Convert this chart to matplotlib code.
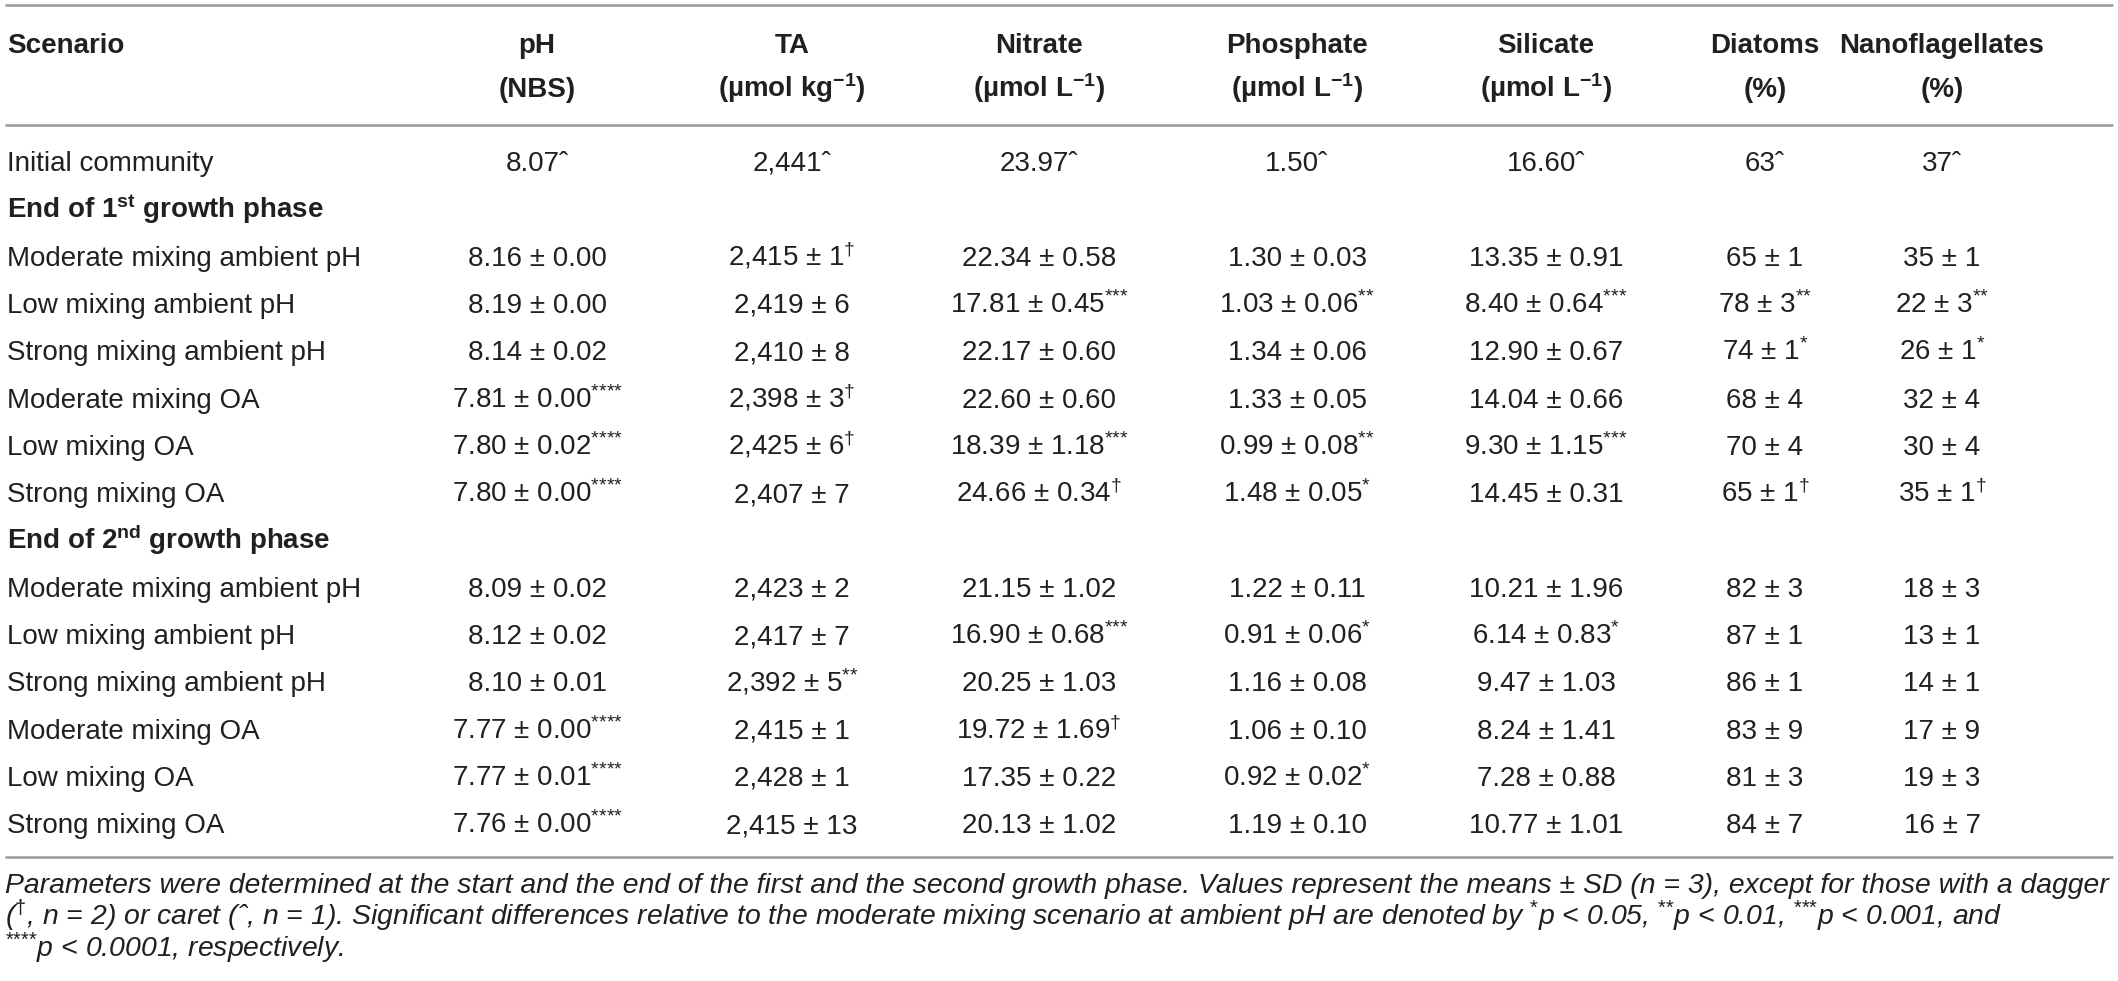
import matplotlib.pyplot as plt

plt.rcParams['font.family'] = 'Liberation Sans'
plt.rcParams['mathtext.fontset'] = 'custom'
plt.rcParams['mathtext.rm'] = 'Liberation Sans'
plt.rcParams['mathtext.it'] = 'Liberation Sans:italic'
plt.rcParams['mathtext.bf'] = 'Liberation Sans:bold'

# ---- table content ----
headers_top = ['Scenario', 'pH', 'TA', 'Nitrate', 'Phosphate', 'Silicate', 'Diatoms', 'Nanoflagellates']
headers_unit = ['', '(NBS)', r'(µmol kg$^{\mathbf{-1}}$)', r'(µmol L$^{\mathbf{-1}}$)',
                r'(µmol L$^{\mathbf{-1}}$)', r'(µmol L$^{\mathbf{-1}}$)', '(%)', '(%)']

scenarios = ['Moderate mixing ambient pH', 'Low mixing ambient pH', 'Strong mixing ambient pH',
             'Moderate mixing OA', 'Low mixing OA', 'Strong mixing OA']

initial = ['8.07^', '2,441^', '23.97^', '1.50^', '16.60^', '63^', '37^']

phase1_ph = ['8.16 ± 0.00', '8.19 ± 0.00', '8.14 ± 0.02', '7.81 ± 0.00****', '7.80 ± 0.02****', '7.80 ± 0.00****']
phase1_ta = ['2,415 ± 1†', '2,419 ± 6', '2,410 ± 8', '2,398 ± 3†', '2,425 ± 6†', '2,407 ± 7']
phase1_no3 = ['22.34 ± 0.58', '17.81 ± 0.45***', '22.17 ± 0.60', '22.60 ± 0.60', '18.39 ± 1.18***', '24.66 ± 0.34†']
phase1_po4 = ['1.30 ± 0.03', '1.03 ± 0.06**', '1.34 ± 0.06', '1.33 ± 0.05', '0.99 ± 0.08**', '1.48 ± 0.05*']
phase1_si = ['13.35 ± 0.91', '8.40 ± 0.64***', '12.90 ± 0.67', '14.04 ± 0.66', '9.30 ± 1.15***', '14.45 ± 0.31']
phase1_diat = ['65 ± 1', '78 ± 3**', '74 ± 1*', '68 ± 4', '70 ± 4', '65 ± 1†']
phase1_nano = ['35 ± 1', '22 ± 3**', '26 ± 1*', '32 ± 4', '30 ± 4', '35 ± 1†']

phase2_ph = ['8.09 ± 0.02', '8.12 ± 0.02', '8.10 ± 0.01', '7.77 ± 0.00****', '7.77 ± 0.01****', '7.76 ± 0.00****']
phase2_ta = ['2,423 ± 2', '2,417 ± 7', '2,392 ± 5**', '2,415 ± 1', '2,428 ± 1', '2,415 ± 13']
phase2_no3 = ['21.15 ± 1.02', '16.90 ± 0.68***', '20.25 ± 1.03', '19.72 ± 1.69†', '17.35 ± 0.22', '20.13 ± 1.02']
phase2_po4 = ['1.22 ± 0.11', '0.91 ± 0.06*', '1.16 ± 0.08', '1.06 ± 0.10', '0.92 ± 0.02*', '1.19 ± 0.10']
phase2_si = ['10.21 ± 1.96', '6.14 ± 0.83*', '9.47 ± 1.03', '8.24 ± 1.41', '7.28 ± 0.88', '10.77 ± 1.01']
phase2_diat = ['82 ± 3', '87 ± 1', '86 ± 1', '83 ± 9', '81 ± 3', '84 ± 7']
phase2_nano = ['18 ± 3', '13 ± 1', '14 ± 1', '17 ± 9', '19 ± 3', '16 ± 7']


def stars(n):
    # braces stop mathtext from spacing '*' like a binary operator
    return '$^{' + '{*}' * n + '}$'


footnote = [
    'Parameters were determined at the start and the end of the first and the second growth phase. '
    'Values represent the means ± SD (n = 3), except for those with a dagger',
    r'($^{\dagger}$, n = 2) or caret (ˆ, n = 1). Significant differences relative to the moderate mixing '
    'scenario at ambient pH are denoted by ' + stars(1) + 'p < 0.05, ' + stars(2) + 'p < 0.01, '
    + stars(3) + 'p < 0.001, and',
    stars(4) + 'p < 0.0001, respectively.',
]


def fmt(s):
    main = s.rstrip('*†^')
    marks = s[len(main):]
    if not marks:
        return main
    if marks == '^':
        return main + 'ˆ'
    if marks == '†':
        return main + r'$^{\dagger}$'
    return main + stars(len(marks))


# ---- layout ----
W, H = 2118, 981
col_x = [7, 537, 792, 1039, 1297, 1546, 1765, 1942]
fs = 20
txt_col = '#231f20'
rule_col = '#9a9a9a'
y0, dy = 161, 47.3
half_cap = 10

fig = plt.figure(figsize=(W / 100, H / 100), dpi=100)
ax = fig.add_axes([0, 0, 1, 1])
ax.set_xlim(0, W)
ax.set_ylim(H, 0)
ax.axis('off')

for yr in [5, 125, 857]:
    ax.plot([5, 2113], [yr, yr], color=rule_col, lw=1.8, solid_capstyle='butt')

# header
for i, (top, unit) in enumerate(zip(headers_top, headers_unit)):
    ha = 'left' if i == 0 else 'center'
    ax.text(col_x[i], 43 + half_cap, top, ha=ha, va='baseline', fontsize=fs,
            fontweight='bold', color=txt_col)
    if unit:
        ax.text(col_x[i], 87 + half_cap, unit, ha=ha, va='baseline', fontsize=fs,
                fontweight='bold', color=txt_col)

rows = [('Initial community', initial, False),
        (r'End of 1$^{\mathbf{st}}$ growth phase', None, True)]
phase1 = [phase1_ph, phase1_ta, phase1_no3, phase1_po4, phase1_si, phase1_diat, phase1_nano]
phase2 = [phase2_ph, phase2_ta, phase2_no3, phase2_po4, phase2_si, phase2_diat, phase2_nano]
for k, name in enumerate(scenarios):
    rows.append((name, [c[k] for c in phase1], False))
rows.append((r'End of 2$^{\mathbf{nd}}$ growth phase', None, True))
for k, name in enumerate(scenarios):
    rows.append((name, [c[k] for c in phase2], False))

for r, (name, vals, bold) in enumerate(rows):
    y = y0 + r * dy + half_cap
    ax.text(col_x[0], y, name, ha='left', va='baseline', fontsize=fs,
            fontweight='bold' if bold else 'normal', color=txt_col)
    if vals is None:
        continue
    for j, v in enumerate(vals):
        ax.text(col_x[j + 1], y, fmt(v), ha='center', va='baseline', fontsize=fs, color=txt_col)

# footnote, sized so the first line spans the table width
renderer = fig.canvas.get_renderer()
probe = ax.text(0, 0, footnote[0], fontsize=18, style='italic')
w = probe.get_window_extent(renderer).width
probe.remove()
fn_fs = 18 * 2105 / w
for i, line in enumerate(footnote):
    ax.text(5, 884 + i * 32 + 9, line, ha='left', va='baseline', fontsize=fn_fs,
            style='italic', color=txt_col)

fig.savefig('out.png', dpi=100)
